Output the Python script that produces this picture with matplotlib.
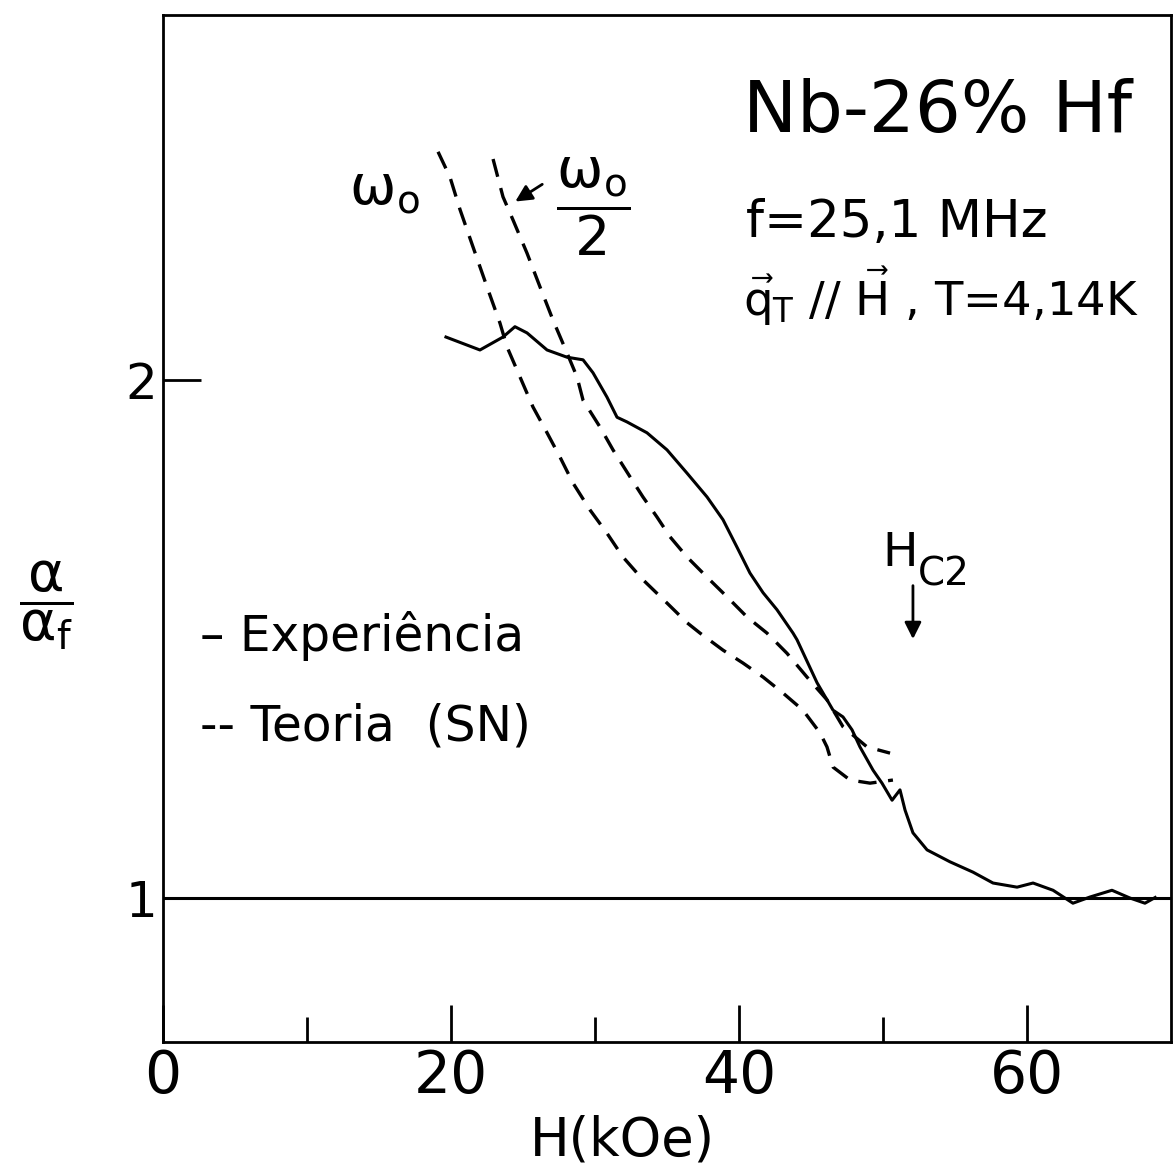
import matplotlib; matplotlib.use("Agg")
import matplotlib.pyplot as plt
import numpy as np

plt.rcParams["font.family"] = ["DejaVu Sans"]
plt.rcParams["mathtext.fontset"] = "dejavusans"

# experimental curve, alpha/alpha_f vs H (kOe)
H_exp = [19.65, 22.01, 23.61, 24.44, 25.28, 26.67, 28.06, 29.17, 29.86, 30.83, 31.53, 32.22,
         33.61, 35.00, 36.39, 37.78, 38.89, 39.86, 40.76, 41.67, 42.64, 43.75, 44.03, 45.42,
         46.53, 47.22, 47.85, 48.40, 49.31, 49.93, 50.63, 51.18, 51.53, 52.08, 53.06, 54.65,
         56.25, 57.64, 59.31, 60.42, 61.81, 63.19, 64.38, 65.90, 67.15, 68.19, 68.9]
a_exp = [2.083, 2.058, 2.083, 2.103, 2.091, 2.058, 2.044, 2.039, 2.014, 1.967, 1.928, 1.919,
         1.898, 1.865, 1.820, 1.774, 1.730, 1.677, 1.627, 1.589, 1.556, 1.511, 1.498, 1.415,
         1.362, 1.349, 1.324, 1.291, 1.246, 1.221, 1.188, 1.208, 1.169, 1.125, 1.092, 1.069,
         1.049, 1.028, 1.020, 1.028, 1.014, 0.989, 1.001, 1.014, 0.999, 0.989, 1.000]

# theory (SN), omega_0
H_w0 = [19.10, 19.93, 20.63, 21.53, 22.50, 23.40, 23.89, 24.79, 25.69, 26.67, 27.57, 28.47,
        29.65, 30.83, 31.94, 33.33, 35.00, 36.39, 37.29, 38.89, 40.28, 41.67, 43.06, 44.44,
        45.63, 46.11, 46.53, 47.71, 49.10, 50.69]
a_w0 = [2.441, 2.392, 2.329, 2.257, 2.180, 2.110, 2.064, 2.006, 1.948, 1.898, 1.851, 1.801,
        1.749, 1.704, 1.658, 1.614, 1.569, 1.531, 1.511, 1.478, 1.453, 1.426, 1.395, 1.362,
        1.318, 1.291, 1.252, 1.227, 1.221, 1.227]

# theory (SN), omega_0 / 2
H_w2 = [22.92, 23.61, 24.31, 25.28, 26.18, 27.08, 28.06, 28.75, 29.17, 30.35, 31.25, 32.43,
        33.33, 34.31, 35.21, 36.39, 37.78, 39.17, 40.56, 41.94, 43.33, 44.72, 46.11, 47.22,
        48.89, 50.49]
a_w2 = [2.427, 2.354, 2.309, 2.245, 2.180, 2.116, 2.052, 2.006, 1.961, 1.909, 1.865, 1.813,
        1.774, 1.735, 1.697, 1.658, 1.619, 1.581, 1.542, 1.511, 1.472, 1.426, 1.382, 1.330,
        1.291, 1.279]

xmaj = [0, 20, 40, 60]
xmin = [10, 30, 50]
yt = [1, 2]

fig = plt.figure(figsize=(11.75, 11.67), dpi=100)
fig.patch.set_facecolor("white")
ax = fig.add_axes([163/1175, 1-1042/1167, 1008/1175, 1027/1167])
ax.set_xlim(0, 70); ax.set_ylim(0.7208, 2.7053)

ax.plot(H_exp, a_exp, color="black", lw=2.2, solid_joinstyle="round")
ax.plot(H_w0, a_w0, color="black", lw=2.4, dashes=(5.5, 3.5))
ax.plot(H_w2, a_w2, color="black", lw=2.4, dashes=(5.5, 3.5))
ax.axhline(1, color="black", lw=2.2)

for s in ax.spines.values():
    s.set_linewidth(2.0)
ax.set_xticks(xmaj); ax.set_xticklabels([str(v) for v in xmaj], fontsize=42)
ax.set_xticks(xmin, minor=True)
ax.tick_params(axis="x", which="major", direction="in", length=27, width=2, pad=4)
ax.tick_params(axis="x", which="minor", direction="in", length=18, width=2)
ax.set_yticks(yt); ax.set_yticklabels([str(v) for v in yt], fontsize=36)
ax.tick_params(axis="y", direction="in", length=27, width=2, pad=4)

fig.text(622/1175, 1-1140/1167, "H(kOe)", fontsize=38, ha="center", va="center")
fig.text(46/1175, 1-605/1167, r"$\dfrac{\mathrm{\alpha}}{\mathrm{\alpha_f}}$", fontsize=40,
         ha="center", va="center")

ax.text(40.3, 2.479, "Nb-26% Hf", fontsize=52, ha="left", va="baseline")
ax.text(40.5, 2.276, "f=25,1 MHz", fontsize=37, ha="left", va="baseline")
ax.text(40.3, 2.124, r"$\vec{\mathrm{q}}_\mathrm{T}$ // $\vec{\mathrm{H}}$ , T=4,14K", fontsize=33.5,
        ha="left", va="baseline")

ax.text(15.4, 2.37, r"$\mathrm{\omega_o}$", fontsize=40, ha="center", va="center")
ax.text(29.9, 2.335, r"$\dfrac{\mathrm{\omega_o}}{2}$", fontsize=40, ha="center", va="center")
ax.annotate("", xy=(24.3, 2.342), xytext=(26.5, 2.381),
            arrowprops=dict(arrowstyle="-|>", color="black", lw=2, mutation_scale=25))

ax.text(51.2, 1.665, "H", fontsize=34, ha="center", va="center")
ax.text(54.2, 1.625, "C2", fontsize=28, ha="center", va="center")
ax.annotate("", xy=(52.08, 1.494), xytext=(52.08, 1.608),
            arrowprops=dict(arrowstyle="-|>", color="black", lw=2, mutation_scale=25))

ax.text(2.6, 1.505, "– Experiência", fontsize=35, ha="left", va="center")
ax.text(2.6, 1.330, "-- Teoria  (SN)", fontsize=35, ha="left", va="center")

fig.savefig("out.png", dpi=100, facecolor="white")
